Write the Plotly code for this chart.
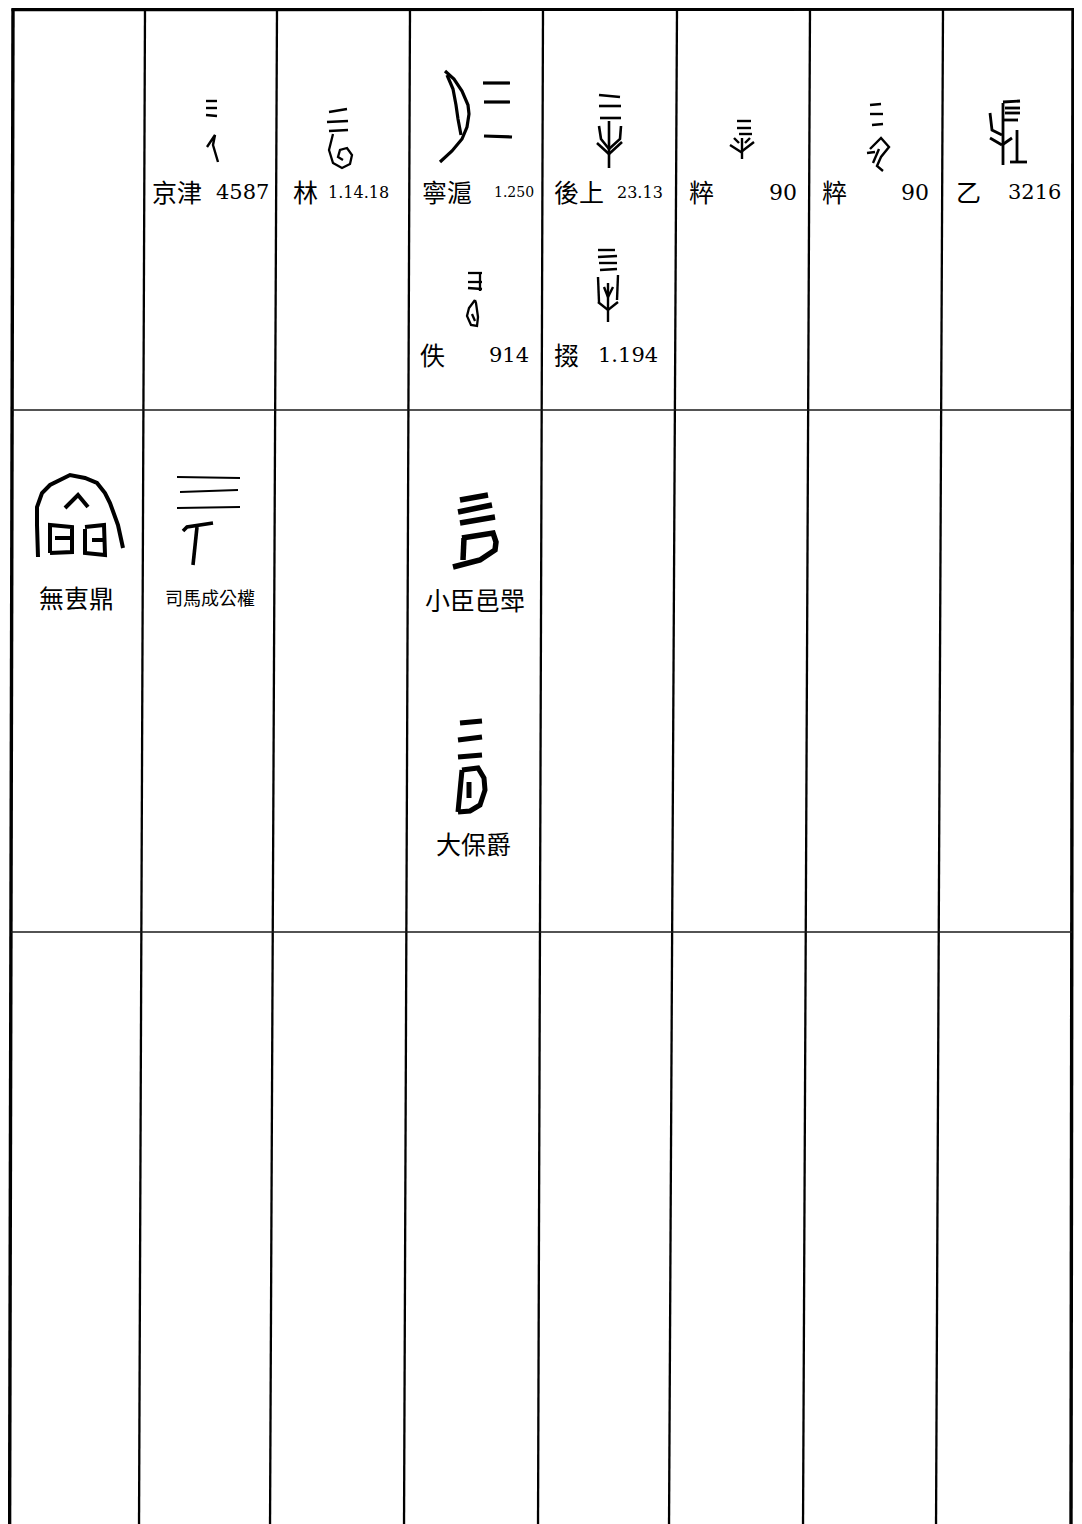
import plotly.graph_objects as go

W, H = 1082, 1524
BODY = 8  # default page margin around the plot div; data coords are page pixels

# ---------------- data (texts of the table) ----------------
oracle_sources = ["京津", "林", "寧滬", "後上", "粹", "粹", "乙"]
oracle_numbers = ["4587", "1.14.18", "1.250", "23.13", "90", "90", "3216"]
oracle_sources_2 = ["佚", "掇"]
oracle_numbers_2 = ["914", "1.194"]
bronze_sources = ["無叀鼎", "司馬成公權", "小臣邑斝", "大保爵"]

# ---------------- layout (grid geometry) ----------------
col_x_top = [13, 145, 277, 410, 543, 677, 810, 943, 1073]
col_x_bot = [9.6, 139, 270, 404, 538, 669, 803, 936, 1071]
Y_TOP, Y_BOT = 9.5, 1530
row_y = [410, 932]

CJK = "Noto Sans CJK TC"
SERIF = "DejaVu Serif"


def col_x(i, y):
    return col_x_top[i] + (col_x_bot[i] - col_x_top[i]) * (y - Y_TOP) / (Y_BOT - Y_TOP)


shapes = []
# vertical rules
for i in range(len(col_x_top)):
    w = 3.4 if i in (0, len(col_x_top) - 1) else 2.3
    shapes.append(dict(type="line", xref="x", yref="y", x0=col_x_top[i], y0=Y_TOP - 1,
                       x1=col_x_bot[i], y1=Y_BOT, line=dict(color="black", width=w)))
# top border
shapes.append(dict(type="line", xref="x", yref="y", x0=col_x_top[0] - 1.5, y0=Y_TOP,
                   x1=col_x_top[-1] + 1.5, y1=Y_TOP - 0.5, line=dict(color="black", width=3.5)))
# horizontal row rules
for y in row_y:
    shapes.append(dict(type="line", xref="x", yref="y", x0=col_x(0, y), y0=y,
                       x1=col_x(len(col_x_top) - 1, y), y1=y, line=dict(color="#1a1a1a", width=1.7)))

# ---------------- glyph drawings (local stroke offsets around a centre) ----------------
glyphs = [
    # 京津 4587
    ((212, 131), 2.4, [
        [(-6, -30), (5, -30)], [(-6, -23), (5, -23)], [(-6, -16), (5, -15)],
        [(-5, 16), (3, 4), (1, 14), (6, 31)]]),
    # 林 1.14.18
    ((341, 138), 2.3, [
        [(-12, -26), (6, -29)], [(-14, -16), (7, -17)], [(-12, -7), (7, -8)],
        [(-8, -4), (-12, 12), (-8, 25), (1, 30), (9, 26), (11, 17), (6, 10), (-1, 12), (-3, 19), (2, 22)]]),
    # 寧滬 1.250
    ((476, 115), 3.2, [
        [(-31, -44), (-22, -36), (-14, -24), (-8, -10), (-7, -1), (-9, 12), (-14, 24), (-24, 36), (-36, 47)],
        [(-29, -40), (-23, -26), (-20, -10), (-18, 4), (-15, 20)],
        [(7, -32), (34, -32)], [(8, -13), (34, -13)], [(8, 21), (36, 22)]]),
    # 後上 23.13
    ((610, 131), 2.6, [
        [(-11, -36), (10, -34)], [(-11, -25), (11, -25)], [(-10, -13), (11, -13)],
        [(-1, -10), (-1, 37)],
        [(-11, -5), (-9, 8), (-1, 18)], [(11, -5), (10, 8), (-1, 18)],
        [(-13, 12), (-1, 23)], [(12, 11), (-1, 23)]]),
    # 粹 90
    ((742, 140), 2.4, [
        [(-5, -19), (9, -19)], [(-5, -12), (9, -12)], [(-3, -6), (10, -6)],
        [(-12, 5), (-1, 12), (12, 2)], [(0, -2), (0, 19)],
        [(-8, -2), (-3, 3)], [(8, -2), (3, 3)]]),
    # 粹 90
    ((877, 137), 2.4, [
        [(-7, -32), (4, -33)], [(-7, -23), (6, -23)], [(-5, -12), (6, -13)],
        [(-7, 12), (4, 1), (12, 10), (4, 20), (0, 29), (6, 34)],
        [(-10, 16), (-2, 15)], [(2, 12), (-4, 26)]]),
    # 乙 3216
    ((1008, 136), 2.8, [
        [(-5, -34), (12, -35)], [(-3, -28), (12, -28)], [(-3, -23), (12, -23)], [(-4, -16), (10, -16)],
        [(-5, -33), (-5, 29)],
        [(-18, -23), (-16, -6), (-6, -1)], [(-18, 2), (-6, 9)], [(4, 2), (-6, 9)],
        [(9, -6), (9, 25)], [(2, 26), (19, 26)]]),
    # 佚 914
    ((475, 300), 2.3, [
        [(-7, -27), (7, -27)], [(-7, -18), (7, -18)], [(-7, -12), (7, -11)], [(5, -27), (5, -9)],
        [(0, 0), (-6, 8), (-8, 16), (-4, 25), (2, 26), (3, 17), (1, 3), (0, 0)],
        [(-3, 14), (0, 21)]]),
    # 掇 1.194
    ((608, 285), 2.4, [
        [(-10, -35), (7, -35)], [(-10, -28), (9, -29)], [(-9, -22), (9, -22)], [(-8, -15), (9, -16)],
        [(-10, -8), (-9, 17)], [(10, -10), (9, 15)],
        [(-10, 17), (0, 25), (10, 17)], [(0, -2), (0, 37)], [(-4, 2), (0, 12), (5, 2)]]),
    # 無叀鼎
    ((80, 515), 4.0, [
        [(-42, 42), (-43, 10), (-43, -8), (-38, -22), (-30, -30), (-10, -40), (5, -37), (17, -32),
         (25, -22), (30, -12), (38, 10), (43, 33)],
        [(-15, -7), (-2, -20), (8, -8)],
        [(-30, 38), (-30, 10), (-8, 12), (-8, 37), (-30, 38)], [(-25, 23), (-10, 23)],
        [(5, 14), (5, 38), (25, 40), (24, 10), (5, 12)], [(12, 25), (23, 25)]]),
    # 司馬成公權
    ((208, 520), 1.8, [
        [(-31, -43), (32, -42)], [(-28, -28), (30, -30)], [(-31, -12), (32, -13)]]),
    ((208, 520), 3.6, [
        [(-25, 11), (-21, 7), (5, 3)], [(-11, 7), (-15, 45)]]),
    # 小臣邑斝
    ((475, 530), 5.5, [
        [(-15, -30), (13, -35)], [(-17, -18), (17, -25)], [(-15, -7), (20, -13)],
        [(-13, 8), (18, 3), (21, 12), (20, 20), (5, 30), (-22, 37)], [(-11, 8), (-12, 30)]]),
    # 大保爵
    ((472, 768), 5.0, [
        [(-12, -45), (10, -47)], [(-14, -28), (10, -31)], [(-14, -11), (10, -13)],
        [(-10, 2), (6, 0), (12, 10), (13, 22), (8, 37), (-2, 43), (-14, 44)], [(-10, 2), (-14, 44)],
        [(-3, 14), (-3, 30)]]),
]

for (cx, cy), lw, strokes in glyphs:
    for st in strokes:
        path = "M " + " L ".join(f"{cx + dx},{cy + dy}" for dx, dy in st)
        shapes.append(dict(type="path", xref="x", yref="y", path=path,
                           line=dict(color="black", width=lw)))

# ---------------- texts ----------------
annotations = []


def txt(x, y, s, size, family, anchor="left"):
    annotations.append(dict(x=x, y=y, xref="x", yref="y", text=s, showarrow=False,
                            xanchor=anchor, yanchor="middle",
                            font=dict(family=family, size=size, color="black")))


name_left = [150, 291, 420, 552, 687, 820, 954]
num_pos = [(214, "left", 21), (326, "left", 16), (492, "left", 14), (615, "left", 16),
           (799, "right", 22), (931, "right", 22), (1063, "right", 21)]
ROW1_Y = 191
for i, nm in enumerate(oracle_sources):
    txt(name_left[i], ROW1_Y, nm, 25, CJK)
    x, a, s = num_pos[i]
    txt(x, ROW1_Y + 1, oracle_numbers[i], s, SERIF, a)

ROW1B_Y = 354
txt(418, ROW1B_Y, oracle_sources_2[0], 25, CJK)
txt(531, ROW1B_Y + 1, oracle_numbers_2[0], 21, SERIF, "right")
txt(552, ROW1B_Y, oracle_sources_2[1], 25, CJK)
txt(596, ROW1B_Y + 1, oracle_numbers_2[1], 21, SERIF, "left")

txt(76, 597, bronze_sources[0], 25, CJK, "center")
txt(210, 597, bronze_sources[1], 18, CJK, "center")
txt(475, 599, bronze_sources[2], 25, CJK, "center")
txt(473, 843, bronze_sources[3], 25, CJK, "center")

fig = go.Figure()
fig.update_layout(
    width=W - BODY, height=H - BODY,
    margin=dict(l=0, r=0, t=0, b=0, pad=0),
    paper_bgcolor="white", plot_bgcolor="white",
    xaxis=dict(range=[BODY, W], visible=False, fixedrange=True),
    yaxis=dict(range=[H, BODY], visible=False, fixedrange=True),
    shapes=shapes, annotations=annotations, showlegend=False,
)
fig.write_html("out.html")
